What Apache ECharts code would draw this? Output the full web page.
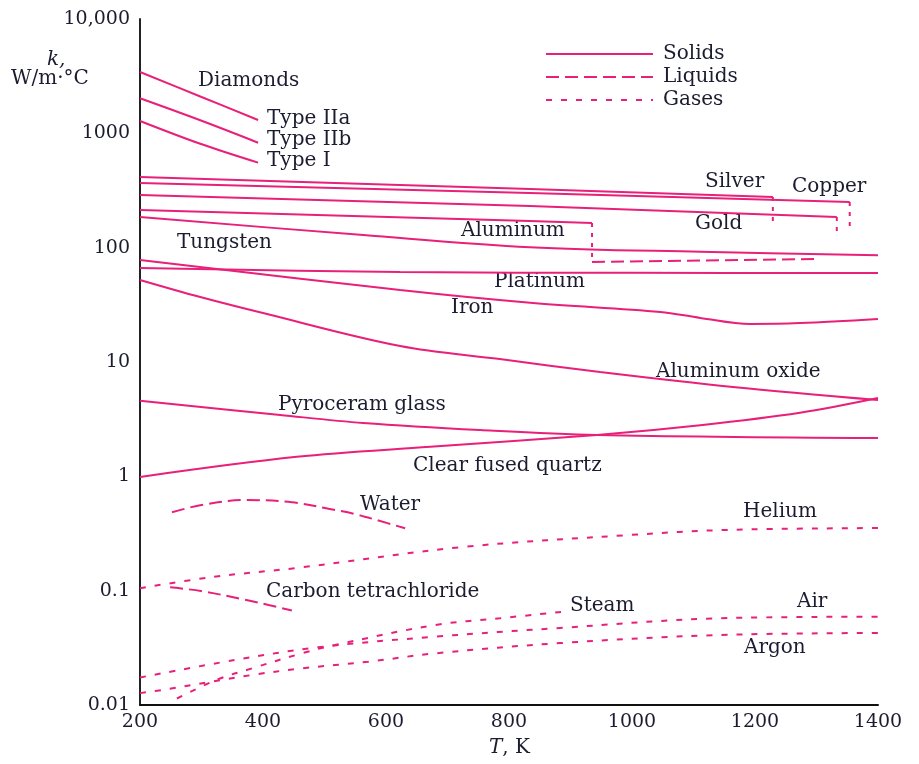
<!DOCTYPE html>
<html>
<head>
<meta charset="utf-8">
<script src="https://cdn.jsdelivr.net/npm/echarts@6/dist/echarts.min.js"></script>
<style>
html,body{margin:0;padding:0;background:#fff;}
#chart{width:919px;height:764px;}
</style>
</head>
<body>
<div id="chart"></div>
<script>
// ---- tick labels ----
const xTicks = [200, 400, 600, 800, 1000, 1200, 1400];
const yTickValues = [0.01, 0.1, 1, 10, 100, 1000, 10000];
const yTickLabels = ['0.01', '0.1', '1', '10', '100', '1000', '10,000'];

// ---- solids: [T (K), k (W/m·°C)] ----
const diamondIIa = [[200, 3441], [298, 2100], [392, 1309]];
const diamondIIb = [[200, 2025], [298, 1300], [392, 828]];
const diamondI = [[200, 1282], [298, 810], [392, 554]];
const silver = [[200, 415], [834, 326], [1229, 277]];
const silverDrop = [[1229, 277], [1229, 168]];
const copper = [[200, 368], [834, 301], [1354, 251]];
const copperDrop = [[1354, 251], [1354, 149]];
const gold = [[200, 289], [834, 231], [1333, 185]];
const goldDrop = [[1333, 185], [1333, 134]];
const aluminum = [[200, 214], [834, 171], [935, 164]];
const aluminumDrop = [[935, 164], [935, 75]];
const tungsten = [[200, 185], [563, 129], [834, 101], [1111, 92], [1400, 86]];
const platinum = [[200, 66.4], [623, 61.3], [1000, 60.2], [1400, 60]];
const iron = [[200, 78], [623, 42.6], [839, 32.8], [1046, 27.4], [1111, 24.3], [1192, 21.5], [1273, 21.9], [1400, 23.8]];
const aluminumOxide = [[200, 52.2], [298, 37], [400, 26.8], [623, 13.8], [785, 10.6], [948, 8.18], [1164, 6.05], [1400, 4.65]];
const pyroceram = [[200, 4.58], [428, 3.44], [563, 2.93], [753, 2.54], [943, 2.30], [1400, 2.16]];
const quartz = [[200, 0.987], [455, 1.48], [672, 1.81], [943, 2.30], [1111, 2.8], [1273, 3.6], [1400, 4.84]];

// ---- liquids ----
const aluminumLiquid = [[935, 75], [1302, 79.6]];
const water = [[252, 0.485], [300, 0.561], [374, 0.621], [447, 0.593], [517, 0.508], [551, 0.466], [586, 0.413], [631, 0.351]];
const carbonTetrachloride = [[249, 0.107], [299, 0.0993], [371, 0.0834], [409, 0.0749], [447, 0.0671]];

// ---- gases ----
const helium = [[200, 0.105], [319, 0.132], [455, 0.158], [725, 0.241], [997, 0.307], [1155, 0.340], [1400, 0.353]];
const steam = [[260, 0.0114], [327, 0.0168], [382, 0.0209], [463, 0.0283], [517, 0.0335], [680, 0.0501], [785, 0.0573], [888, 0.0655]];
const air = [[200, 0.0174], [355, 0.0248], [490, 0.032], [680, 0.0396], [883, 0.0472], [1138, 0.0573], [1400, 0.0592]];
const argon = [[200, 0.0127], [246, 0.0138], [382, 0.0183], [463, 0.0209], [571, 0.0239], [680, 0.0283], [883, 0.0348], [1138, 0.0409], [1400, 0.0427]];

const COLOR = '#e8207a';
const TEXT = '#1c1c30';
const FONT = '"DejaVu Serif", "Liberation Serif", serif';
const SOLID = 'solid';
const LIQUID = [13, 6];
const GAS = [6, 9];
const DROP = [4, 6];

function ln(name, data, type, smooth) {
  return {
    name: name, type: 'line', data: data, symbol: 'none', showSymbol: false,
    smooth: smooth ? 0.35 : false,
    silent: true, animation: false,
    itemStyle: { color: COLOR },
    lineStyle: { color: COLOR, width: 2, type: type }
  };
}

const series = [
  ln('Solids', [], SOLID), ln('Liquids', [], LIQUID), ln('Gases', [], GAS),
  ln('Type IIa', diamondIIa, SOLID, true),
  ln('Type IIb', diamondIIb, SOLID, true),
  ln('Type I', diamondI, SOLID, true),
  ln('Silver', silver, SOLID), ln('Silver drop', silverDrop, DROP),
  ln('Copper', copper, SOLID), ln('Copper drop', copperDrop, DROP),
  ln('Gold', gold, SOLID), ln('Gold drop', goldDrop, DROP),
  ln('Aluminum', aluminum, SOLID), ln('Aluminum drop', aluminumDrop, DROP),
  ln('Aluminum liquid', aluminumLiquid, LIQUID),
  ln('Tungsten', tungsten, SOLID, true),
  ln('Platinum', platinum, SOLID, true),
  ln('Iron', iron, SOLID, true),
  ln('Aluminum oxide', aluminumOxide, SOLID, true),
  ln('Pyroceram glass', pyroceram, SOLID, true),
  ln('Clear fused quartz', quartz, SOLID, true),
  ln('Water', water, LIQUID, true),
  ln('Carbon tetrachloride', carbonTetrachloride, LIQUID, true),
  ln('Helium', helium, GAS, true),
  ln('Steam', steam, GAS, true),
  ln('Air', air, GAS, true),
  ln('Argon', argon, GAS, true)
];

// annotation texts (left x, middle y)
const notes = [
  ['Diamonds', 198, 82], ['Type IIa', 267, 120], ['Type IIb', 267, 141], ['Type I', 267, 162],
  ['Silver', 705, 183], ['Copper', 792, 188], ['Gold', 695, 225], ['Aluminum', 461, 232],
  ['Tungsten', 177, 244], ['Platinum', 494, 283], ['Iron', 451, 309], ['Aluminum oxide', 656, 373],
  ['Pyroceram glass', 278, 406], ['Clear fused quartz', 413, 467], ['Water', 360, 506],
  ['Helium', 743, 513], ['Carbon tetrachloride', 266, 593], ['Steam', 570, 607],
  ['Air', 797, 603], ['Argon', 744, 649]
];

const graphic = notes.map(n => ({
  type: 'text', left: n[1], top: n[2] - 11, silent: true,
  style: { text: n[0], font: '20px ' + FONT, fill: TEXT }
}));
graphic.push({
  type: 'text', left: 47, top: 50, silent: true,
  style: { text: 'k,', font: 'italic 20px ' + FONT, fill: TEXT }
});
graphic.push({
  type: 'text', left: 11, top: 69, silent: true,
  style: { text: 'W/m·°C', font: '20px ' + FONT, fill: TEXT }
});
graphic.push({
  type: 'text', left: 489, top: 738, silent: true,
  style: {
    text: '{i|T}{n|, K}', fill: TEXT,
    rich: { i: { font: 'italic 20px ' + FONT, fill: TEXT }, n: { font: '20px ' + FONT, fill: TEXT } }
  }
});

const chart = echarts.init(document.getElementById('chart'), null, { renderer: 'canvas' });
chart.setOption({
  animation: false,
  backgroundColor: '#fff',
  grid: { left: 140, right: 41, top: 19, bottom: 59, containLabel: false },
  legend: {
    data: ['Solids', 'Liquids', 'Gases'], orient: 'vertical', left: 545, top: 44, padding: 0,
    itemWidth: 107, itemHeight: 14, itemGap: 3, selectedMode: false,
    itemStyle: { opacity: 0 },
    textStyle: { fontFamily: FONT, fontSize: 20, color: TEXT, padding: [0, 0, 0, 5] }
  },
  xAxis: {
    type: 'value', min: xTicks[0], max: xTicks[xTicks.length - 1], interval: 200,
    axisLine: { show: true, lineStyle: { color: '#111', width: 2 } },
    axisTick: { show: false }, splitLine: { show: false },
    axisLabel: { margin: 8, fontFamily: FONT, fontSize: 19, color: TEXT, formatter: v => String(v) }
  },
  yAxis: {
    type: 'log', logBase: 10, min: yTickValues[0], max: yTickValues[yTickValues.length - 1],
    axisLine: { show: true, lineStyle: { color: '#222', width: 2 } },
    axisTick: { show: false }, splitLine: { show: false },
    axisLabel: {
      margin: 10, fontFamily: FONT, fontSize: 19, color: TEXT,
      formatter: function (v) {
        let best = 0;
        for (let i = 0; i < yTickValues.length; i++) {
          if (Math.abs(Math.log10(v) - Math.log10(yTickValues[i])) < Math.abs(Math.log10(v) - Math.log10(yTickValues[best]))) best = i;
        }
        return yTickLabels[best];
      }
    }
  },
  graphic: graphic,
  series: series
});
</script>
</body>
</html>
